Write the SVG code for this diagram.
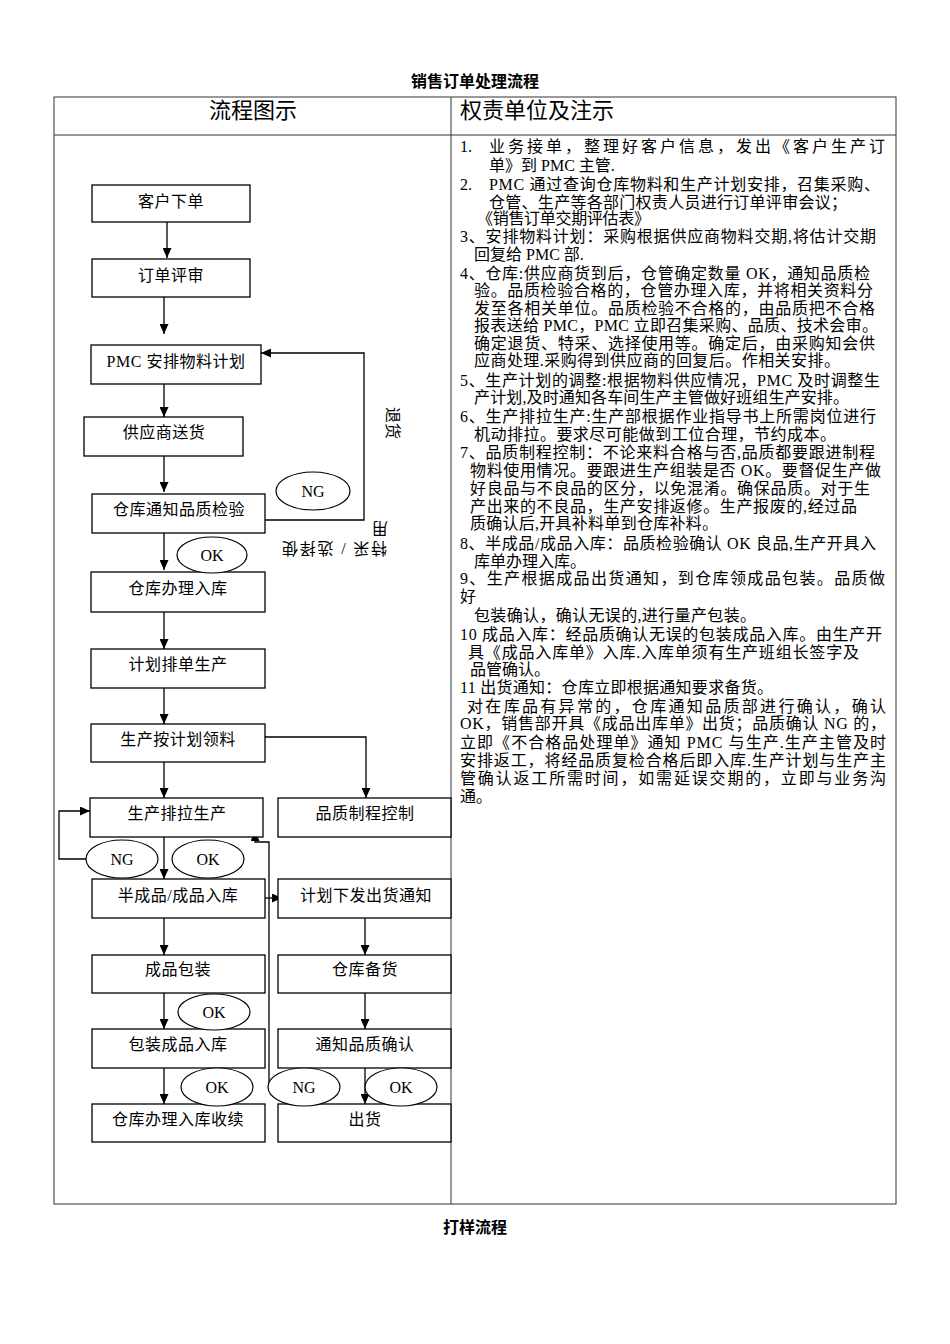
<svg xmlns="http://www.w3.org/2000/svg" width="950" height="1344" viewBox="0 0 950 1344">
<style>
.bx{fill:#fff;stroke:#000;stroke-width:1.3}
.el{fill:#fff;stroke:#000;stroke-width:1.2}
.bt{font-family:"Liberation Serif","Noto Sans CJK SC",serif;font-size:16px;fill:#000;text-anchor:middle;letter-spacing:0.5px}
.et{font-family:"Liberation Serif","Noto Sans CJK SC",serif;font-size:16px;fill:#000;text-anchor:middle}
.n{font-family:"Liberation Serif","Noto Sans CJK SC",serif;font-size:16px;fill:#000}
.h{font-family:"Liberation Sans","Noto Sans CJK SC",sans-serif;font-size:22px;fill:#000}
.t{font-family:"Liberation Sans","Noto Sans CJK SC",sans-serif;font-size:16px;font-weight:bold;fill:#000;text-anchor:middle}
.ln{fill:none;stroke:#000;stroke-width:1.3}
.tb{fill:none;stroke:#333;stroke-width:1}
.rt{font-family:"Liberation Serif","Noto Sans CJK SC",serif;font-size:16px;fill:#000}
</style>
<defs>
<marker id="ar" markerUnits="userSpaceOnUse" markerWidth="10" markerHeight="9" refX="10" refY="4.5" orient="auto">
<path d="M0,0 L10,4.5 L0,9 z" fill="#000"/>
</marker>
</defs>
<rect width="950" height="1344" fill="#fff"/>
<text class="t" x="475" y="87">销售订单处理流程</text>
<text class="t" x="475" y="1233">打样流程</text>
<g id="table">
<rect class="tb" x="54" y="97" width="842" height="1107"/>
<line class="tb" x1="54" y1="135" x2="896" y2="135"/>
<line class="tb" x1="451" y1="97" x2="451" y2="1204"/>
<text class="h" x="253" y="118" text-anchor="middle">流程图示</text>
<text class="h" x="460" y="118">权责单位及注示</text>
</g>
<g id="notes">
<text class="n" y="152"><tspan x="460">1.</tspan><tspan x="489" textLength="396" lengthAdjust="spacing">业务接单，整理好客户信息，发出《客户生产订</tspan></text>
<text class="n" x="489" y="171">单》到 PMC 主管.</text>
<text class="n" y="190"><tspan x="460">2.</tspan><tspan x="489" textLength="391" lengthAdjust="spacing">PMC 通过查询仓库物料和生产计划安排，召集采购、</tspan></text>
<text class="n" x="489" y="208" textLength="358" lengthAdjust="spacing">仓管、生产等各部门权责人员进行订单评审会议；</text>
<text class="n" x="477" y="224" textLength="173" lengthAdjust="spacing">《销售订单交期评估表》</text>
<text class="n" x="460" y="242" textLength="416" lengthAdjust="spacing">3、安排物料计划：采购根据供应商物料交期,将估计交期</text>
<text class="n" x="474" y="260">回复给 PMC 部.</text>
<text class="n" x="460" y="279" textLength="410" lengthAdjust="spacing">4、仓库:供应商货到后，仓管确定数量 OK，通知品质检</text>
<text class="n" x="474" y="296" textLength="399" lengthAdjust="spacing">验。品质检验合格的，仓管办理入库，并将相关资料分</text>
<text class="n" x="474" y="314" textLength="401" lengthAdjust="spacing">发至各相关单位。品质检验不合格的，由品质把不合格</text>
<text class="n" x="474" y="331" textLength="404" lengthAdjust="spacing">报表送给 PMC，PMC 立即召集采购、品质、技术会审。</text>
<text class="n" x="474" y="349" textLength="401" lengthAdjust="spacing">确定退货、特采、选择使用等。确定后，由采购知会供</text>
<text class="n" x="474" y="366" textLength="366" lengthAdjust="spacing">应商处理.采购得到供应商的回复后。作相关安排。</text>
<text class="n" x="460" y="386" textLength="420" lengthAdjust="spacing">5、生产计划的调整:根据物料供应情况，PMC 及时调整生</text>
<text class="n" x="474" y="403" textLength="375" lengthAdjust="spacing">产计划,及时通知各车间生产主管做好班组生产安排。</text>
<text class="n" x="460" y="422" textLength="416" lengthAdjust="spacing">6、生产排拉生产:生产部根据作业指导书上所需岗位进行</text>
<text class="n" x="474" y="440" textLength="362" lengthAdjust="spacing">机动排拉。要求尽可能做到工位合理，节约成本。</text>
<text class="n" x="460" y="458" textLength="415" lengthAdjust="spacing">7、品质制程控制：不论来料合格与否,品质都要跟进制程</text>
<text class="n" x="470" y="476" textLength="411" lengthAdjust="spacing">物料使用情况。要跟进生产组装是否 OK。要督促生产做</text>
<text class="n" x="470" y="494" textLength="400" lengthAdjust="spacing">好良品与不良品的区分，以免混淆。确保品质。对于生</text>
<text class="n" x="470" y="512" textLength="387" lengthAdjust="spacing">产出来的不良品，生产安排返修。生产报废的,经过品</text>
<text class="n" x="470" y="529" textLength="248" lengthAdjust="spacing">质确认后,开具补料单到仓库补料。</text>
<text class="n" x="460" y="549" textLength="416" lengthAdjust="spacing">8、半成品/成品入库：品质检验确认 OK 良品,生产开具入</text>
<text class="n" x="474" y="567">库单办理入库。</text>
<text class="n" x="460" y="584" textLength="425" lengthAdjust="spacing">9、生产根据成品出货通知，到仓库领成品包装。品质做</text>
<text class="n" x="460" y="602">好</text>
<text class="n" x="474" y="621" textLength="282" lengthAdjust="spacing">包装确认，确认无误的,进行量产包装。</text>
<text class="n" x="460" y="640" textLength="422" lengthAdjust="spacing">10 成品入库：经品质确认无误的包装成品入库。由生产开</text>
<text class="n" x="468" y="658" textLength="391" lengthAdjust="spacing">具《成品入库单》入库.入库单须有生产班组长签字及</text>
<text class="n" x="470" y="675">品管确认。</text>
<text class="n" x="460" y="693" textLength="313" lengthAdjust="spacing">11 出货通知：仓库立即根据通知要求备货。</text>
<text class="n" x="467" y="712" textLength="419" lengthAdjust="spacing">对在库品有异常的，仓库通知品质部进行确认，确认</text>
<text class="n" x="460" y="729" textLength="426" lengthAdjust="spacing">OK，销售部开具《成品出库单》出货；品质确认 NG 的，</text>
<text class="n" x="460" y="748" textLength="426" lengthAdjust="spacing">立即《不合格品处理单》通知 PMC 与生产.生产主管及时</text>
<text class="n" x="460" y="766" textLength="426" lengthAdjust="spacing">安排返工，将经品质复检合格后即入库.生产计划与生产主</text>
<text class="n" x="460" y="784" textLength="426" lengthAdjust="spacing">管确认返工所需时间，如需延误交期的，立即与业务沟</text>
<text class="n" x="460" y="802">通。</text>
</g>
<g id="connectors">
<path class="ln" d="M167,222 V258" marker-end="url(#ar)"/>
<path class="ln" d="M164,297 V334" marker-end="url(#ar)"/>
<path class="ln" d="M265,520 H364 V353 H261" marker-end="url(#ar)"/>
<path class="ln" d="M164,384 V417" marker-end="url(#ar)"/>
<path class="ln" d="M164,456 V492" marker-end="url(#ar)"/>
<path class="ln" d="M164,533 V570" marker-end="url(#ar)"/>
<path class="ln" d="M164,612 V649" marker-end="url(#ar)"/>
<path class="ln" d="M164,688 V724" marker-end="url(#ar)"/>
<path class="ln" d="M164,762 V798" marker-end="url(#ar)"/>
<path class="ln" d="M265,737 H366 V798" marker-end="url(#ar)"/>
<path class="ln" d="M86,859 H59 V811 H90" marker-end="url(#ar)"/>
<path class="ln" d="M164,837 V879" marker-end="url(#ar)"/>
<path class="ln" d="M265,898 H282" marker-end="url(#ar)"/>
<path class="ln" d="M269,1088 V842 H255 V831" marker-end="url(#ar)"/>
<path class="ln" d="M164,918 V955" marker-end="url(#ar)"/>
<path class="ln" d="M164,993 V1029" marker-end="url(#ar)"/>
<path class="ln" d="M164,1068 V1104" marker-end="url(#ar)"/>
<path class="ln" d="M365,918 V955" marker-end="url(#ar)"/>
<path class="ln" d="M365,993 V1029" marker-end="url(#ar)"/>
<path class="ln" d="M365,1068 V1104" marker-end="url(#ar)"/>
</g>
<g id="n1"><rect class="bx" x="92" y="185" width="158" height="37"/><text class="bt" x="171" y="207">客户下单</text></g>
<g id="n2"><rect class="bx" x="92" y="259" width="158" height="38"/><text class="bt" x="171" y="281">订单评审</text></g>
<g id="n3"><rect class="bx" x="91" y="345" width="170" height="39"/><text class="bt" x="176" y="367">PMC 安排物料计划</text></g>
<g id="n4"><rect class="bx" x="84" y="417" width="159" height="39"/><text class="bt" x="164" y="438">供应商送货</text></g>
<g id="n5"><rect class="bx" x="92" y="494" width="173" height="39"/><text class="bt" x="179" y="515">仓库通知品质检验</text></g>
<g id="n6"><rect class="bx" x="91" y="572" width="174" height="40"/><text class="bt" x="178" y="594">仓库办理入库</text></g>
<g id="n7"><rect class="bx" x="91" y="649" width="174" height="39"/><text class="bt" x="178" y="670">计划排单生产</text></g>
<g id="n8"><rect class="bx" x="91" y="724" width="174" height="38"/><text class="bt" x="178" y="745">生产按计划领料</text></g>
<g id="n9"><rect class="bx" x="90" y="798" width="173" height="39"/><text class="bt" x="177" y="819">生产排拉生产</text></g>
<g id="n10"><rect class="bx" x="278" y="798" width="173" height="39"/><text class="bt" x="365" y="819">品质制程控制</text></g>
<g id="n11"><rect class="bx" x="92" y="879" width="173" height="39"/><text class="bt" x="178" y="901">半成品/成品入库</text></g>
<g id="n12"><rect class="bx" x="278" y="879" width="173" height="39"/><text class="bt" x="366" y="901">计划下发出货通知</text></g>
<g id="n13"><rect class="bx" x="92" y="955" width="173" height="38"/><text class="bt" x="178" y="975">成品包装</text></g>
<g id="n14"><rect class="bx" x="278" y="955" width="173" height="38"/><text class="bt" x="365" y="975">仓库备货</text></g>
<g id="n15"><rect class="bx" x="92" y="1029" width="173" height="39"/><text class="bt" x="178" y="1050">包装成品入库</text></g>
<g id="n16"><rect class="bx" x="278" y="1029" width="173" height="39"/><text class="bt" x="365" y="1050">通知品质确认</text></g>
<g id="n17"><rect class="bx" x="92" y="1104" width="173" height="38"/><text class="bt" x="178" y="1125">仓库办理入库收续</text></g>
<g id="n18"><rect class="bx" x="278" y="1104" width="173" height="38"/><text class="bt" x="365" y="1125">出货</text></g>
<g id="lbl-ng1"><ellipse class="el" cx="313" cy="491" rx="37" ry="19"/><text class="et" x="313" y="497">NG</text></g>
<g id="lbl-ok1"><ellipse class="el" cx="212" cy="555" rx="35" ry="18"/><text class="et" x="212" y="561">OK</text></g>
<g id="lbl-ng2"><ellipse class="el" cx="122" cy="859" rx="36" ry="19"/><text class="et" x="122" y="865">NG</text></g>
<g id="lbl-ok2"><ellipse class="el" cx="208" cy="859" rx="36" ry="19"/><text class="et" x="208" y="865">OK</text></g>
<g id="lbl-ok3"><ellipse class="el" cx="214" cy="1012" rx="36" ry="18"/><text class="et" x="214" y="1018">OK</text></g>
<g id="lbl-ok4"><ellipse class="el" cx="217" cy="1087" rx="36" ry="19"/><text class="et" x="217" y="1093">OK</text></g>
<g id="lbl-ng3"><ellipse class="el" cx="304" cy="1087" rx="36" ry="19"/><text class="et" x="304" y="1093">NG</text></g>
<g id="lbl-ok5"><ellipse class="el" cx="401" cy="1087" rx="36" ry="19"/><text class="et" x="401" y="1093">OK</text></g>
<g id="side-labels">
<text class="rt" transform="translate(393,407) rotate(90)" x="0" y="6" textLength="32" lengthAdjust="spacing">退货</text>
<text class="rt" transform="rotate(180 335 549)" x="283" y="555" textLength="105" lengthAdjust="spacing">特采 / 选择使</text>
<text class="rt" transform="rotate(180 380 529)" x="372" y="535">用</text>
</g>
</svg>
